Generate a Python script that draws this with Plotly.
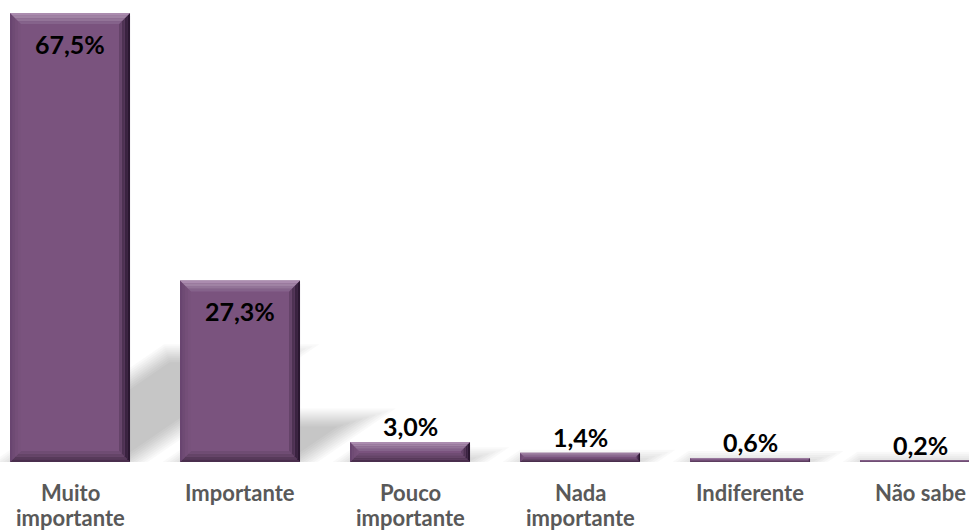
import math
import plotly.graph_objects as go

# Survey answers and their shares (%)
categories = ["Muito importante", "Importante", "Pouco importante",
              "Nada importante", "Indiferente", "Não sabe"]
label_lines = [["Muito", "importante"], ["Importante"], ["Pouco", "importante"],
               ["Nada", "importante"], ["Indiferente"], ["Não sabe"]]
values = [67.5, 27.3, 3.0, 1.4, 0.6, 0.2]
value_labels = ["67,5%", "27,3%", "3,0%", "1,4%", "0,6%", "0,2%"]

# Canvas / axis geometry
W, H = 969, 531
M_B = 69
X_RANGE = [-0.4118, 5.2882]
Y_RANGE = [0, 69.45]
BAR_W = 0.706

px_x = W / (X_RANGE[1] - X_RANGE[0])          # pixels per category unit
px_y = (H - M_B) / (Y_RANGE[1] - Y_RANGE[0])  # pixels per percentage point

BODY = "#7a537e"
BEVEL = {
    "top":    ["#ab8caf", "#a083a4", "#937498", "#85638b"],
    "left":   ["#694570", "#6f4b74", "#744f78", "#78527c"],
    "bottom": ["#4a2e4d", "#573a5a", "#644467", "#6f4c73"],
    "right":  ["#2a1730", "#3a2340", "#4e3253", "#65446a"],
}
BEVEL_PX = 11


def path(pts):
    return "M " + " L ".join(f"{x:.5f},{y:.5f}" for x, y in pts) + " Z"


def strip(L, R, T, B, a, b, side):
    """Trapezoid between insets a and b (pixels) along one side of a bar."""
    ax, ay, bx, by = a / px_x, a / px_y, b / px_x, b / px_y
    if side == "top":
        pts = [(L + ax, T - ay), (R - ax, T - ay), (R - bx, T - by), (L + bx, T - by)]
    elif side == "bottom":
        pts = [(L + ax, B + ay), (R - ax, B + ay), (R - bx, B + by), (L + bx, B + by)]
    elif side == "left":
        pts = [(L + ax, B + ay), (L + ax, T - ay), (L + bx, T - by), (L + bx, B + by)]
    else:
        pts = [(R - ax, B + ay), (R - ax, T - ay), (R - bx, T - by), (R - bx, B + by)]
    return path(pts)


shapes = []

# Soft perspective shadows cast towards the upper right:
# concentric grown/shrunk copies of a sheared parallelogram give a blurred edge.
SKEW, SQUASH = 0.35, 0.24
slope = SKEW / SQUASH                       # horizontal px per vertical px
side_grow = math.sqrt(1 + slope ** 2)       # horizontal shift per px of normal offset
for i, v in enumerate(values):
    Lp = (i - BAR_W / 2 - X_RANGE[0]) * px_x
    Rp = (i + BAR_W / 2 - X_RANGE[0]) * px_x
    t = SQUASH * v * px_y
    for d in range(-8, 12, 2):
        if t + 2 * d <= 0.5:
            continue
        y0, y1 = -d, t + d
        hs = d * side_grow
        pts_px = [(Lp - hs + y0 * slope, y0), (Rp + hs + y0 * slope, y0),
                  (Rp + hs + y1 * slope, y1), (Lp - hs + y1 * slope, y1)]
        pts = [(x / px_x + X_RANGE[0], y / px_y) for x, y in pts_px]
        shapes.append(dict(
            type="path", xref="x", yref="y", layer="below", path=path(pts),
            fillcolor="black", opacity=0.023, line=dict(width=0)))

# Bevelled edges on each bar
for i, v in enumerate(values):
    L, R = i - BAR_W / 2, i + BAR_W / 2
    h_px = v * px_y
    w = min(BEVEL_PX, h_px * 0.45)
    n = len(BEVEL["top"])
    for side in ("bottom", "left", "right", "top"):
        for k, col in enumerate(BEVEL[side]):
            shapes.append(dict(
                type="path", xref="x", yref="y", layer="above",
                path=strip(L, R, v, 0, w * k / n, w * (k + 1) / n, side),
                fillcolor=col, line=dict(width=0)))

fig = go.Figure(go.Bar(
    x=list(range(len(categories))), y=values, width=BAR_W,
    marker=dict(color=BODY, line=dict(width=0)),
    hovertext=categories, hoverinfo="text+y",
))

annotations = []
for i, (v, lab) in enumerate(zip(values, value_labels)):
    inside = v > 10
    annotations.append(dict(
        x=i, y=v, xref="x", yref="y", text=lab, showarrow=False,
        yanchor="middle", yshift=-31 if inside else 16,
        font=dict(family="Lato", size=25, color="black", weight="bold")))

for i, lines in enumerate(label_lines):
    for j, line in enumerate(lines):
        annotations.append(dict(
            x=i, y=0, xref="x", yref="paper", text=line, showarrow=False,
            yanchor="middle", yshift=-30 - 25 * j,
            font=dict(family="Lato", size=22, color="#595959", weight="bold")))

fig.update_layout(
    width=W, height=H,
    margin=dict(l=0, r=0, t=0, b=M_B, pad=0),
    paper_bgcolor="white", plot_bgcolor="white",
    showlegend=False,
    xaxis=dict(range=X_RANGE, showgrid=False, zeroline=False,
               showticklabels=False, ticks="", showline=False),
    yaxis=dict(range=Y_RANGE, showgrid=False, zeroline=False,
               showticklabels=False, ticks="", showline=False),
    shapes=shapes,
    annotations=annotations,
)

fig.write_html("out.html")
